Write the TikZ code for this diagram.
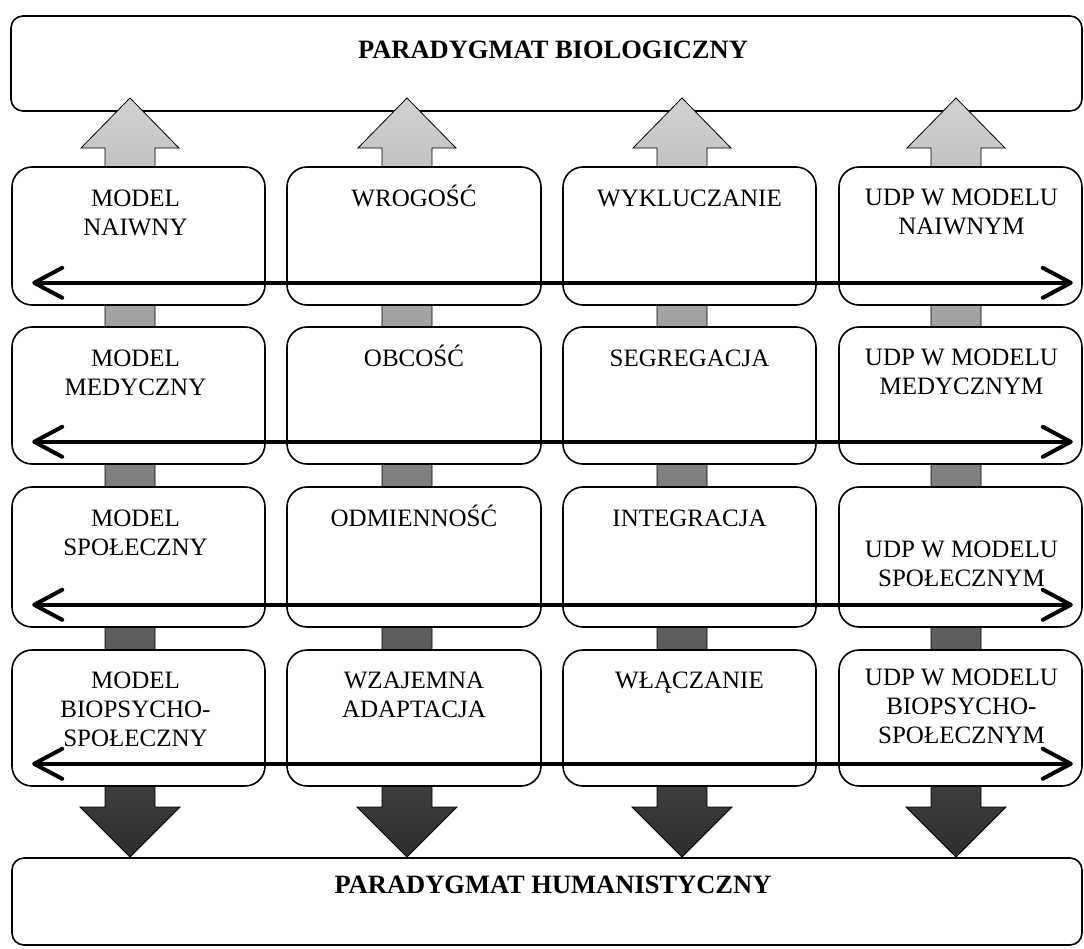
\documentclass[tikz,border=0pt]{standalone}
\usepackage{fontspec}
\setmainfont{Liberation Serif}
\usetikzlibrary{arrows.meta,calc}
\begin{document}
\begin{tikzpicture}[x=1pt,y=-1pt,
  box/.style={draw=black, line width=1.6pt, fill=white, rounded corners=20pt, inner sep=0pt},
  paradigm/.style={draw=black, line width=1.6pt, rounded corners=12pt, inner sep=0pt},
  lbl/.style={font=\fontsize{25}{29}\selectfont, align=center, inner sep=0pt, anchor=north},
  ttl/.style={font=\fontsize{26.5}{30}\selectfont\bfseries, inner sep=0pt, anchor=base},
  flow/.style={draw=black, line width=0.8pt, top color=black!18, bottom color=black!82},
  axis/.style={line width=4pt, {Straight Barb[length=28pt,width=30pt,round]}-{Straight Barb[length=28pt,width=30pt,round]}}
]
\useasboundingbox (0,0) rectangle (1084,948);
\newcommand{\fl}{\rule{0pt}{24pt}}

% paradigm boxes
\node[paradigm, minimum width=1071pt, minimum height=95pt] (bio) at (546.5,63.5) {};
\node[paradigm, minimum width=1070pt, minimum height=87pt] (hum) at (547,901.5) {};
\node[ttl] (biot) at (553,58) {PARADYGMAT BIOLOGICZNY};
\node[ttl] (humt) at (553,893) {PARADYGMAT HUMANISTYCZNY};

% vertical block arrows
\foreach \cx in {130,407,682,956}{
  \path[flow] (\cx,98) -- ++(49,50) -- ++(-24,0) -- ++(0,659) -- ++(25,0)
    -- ++(-50,50) -- ++(-50,-50) -- ++(25,0) -- ++(0,-659) -- ++(-24,0) -- cycle;
}

% row 1
\node[box, minimum width=253pt, minimum height=138pt] (b11) at (138.5,236) {};
\node[box, minimum width=254pt, minimum height=138pt] (b12) at (414,236) {};
\node[box, minimum width=253pt, minimum height=138pt] (b13) at (689.5,236) {};
\node[box, minimum width=243pt, minimum height=138pt] (b14) at (960.5,236) {};
% row 2
\node[box, minimum width=253pt, minimum height=137pt] (b21) at (138.5,395.5) {};
\node[box, minimum width=254pt, minimum height=137pt] (b22) at (414,395.5) {};
\node[box, minimum width=253pt, minimum height=137pt] (b23) at (689.5,395.5) {};
\node[box, minimum width=243pt, minimum height=137pt] (b24) at (960.5,395.5) {};
% row 3
\node[box, minimum width=253pt, minimum height=140pt] (b31) at (138.5,557) {};
\node[box, minimum width=254pt, minimum height=140pt] (b32) at (414,557) {};
\node[box, minimum width=253pt, minimum height=140pt] (b33) at (689.5,557) {};
\node[box, minimum width=243pt, minimum height=140pt] (b34) at (960.5,557) {};
% row 4
\node[box, minimum width=253pt, minimum height=136pt] (b41) at (138.5,718) {};
\node[box, minimum width=254pt, minimum height=136pt] (b42) at (414,718) {};
\node[box, minimum width=253pt, minimum height=136pt] (b43) at (689.5,718) {};
\node[box, minimum width=243pt, minimum height=136pt] (b44) at (960.5,718) {};

% labels
\node[lbl] (t11) at ($(b11.north)+(-3,16)$) {\fl MODEL\\NAIWNY};
\node[lbl] (t12) at ($(b12.north)+(0,16)$) {\fl WROGOŚĆ};
\node[lbl] (t13) at ($(b13.north)+(0,16)$) {\fl WYKLUCZANIE};
\node[lbl] (t14) at ($(b14.north)+(1,15)$) {\fl UDP W MODELU\\NAIWNYM};

\node[lbl] (t21) at ($(b21.north)+(-3,16)$) {\fl MODEL\\MEDYCZNY};
\node[lbl] (t22) at ($(b22.north)+(0,16)$) {\fl OBCOŚĆ};
\node[lbl] (t23) at ($(b23.north)+(0,16)$) {\fl SEGREGACJA};
\node[lbl] (t24) at ($(b24.north)+(1,15)$) {\fl UDP W MODELU\\MEDYCZNYM};

\node[lbl] (t31) at ($(b31.north)+(-3,16)$) {\fl MODEL\\SPOŁECZNY};
\node[lbl] (t32) at ($(b32.north)+(0,16)$) {\fl ODMIENNOŚĆ};
\node[lbl] (t33) at ($(b33.north)+(0,16)$) {\fl INTEGRACJA};
\node[lbl] (t34) at ($(b34.north)+(1,47)$) {\fl UDP W MODELU\\SPOŁECZNYM};

\node[lbl] (t41) at ($(b41.north)+(-3,15)$) {\fl MODEL\\BIOPSYCHO-\\SPOŁECZNY};
\node[lbl] (t42) at ($(b42.north)+(0,15)$) {\fl WZAJEMNA\\ADAPTACJA};
\node[lbl] (t43) at ($(b43.north)+(0,15)$) {\fl WŁĄCZANIE};
\node[lbl] (t44) at ($(b44.north)+(1,12)$) {\fl UDP W MODELU\\BIOPSYCHO-\\SPOŁECZNYM};

% horizontal double arrows
\foreach \r in {1,2,3,4}{
  \coordinate (l\r) at ($(b\r1.south west)+(21,-23)$);
  \coordinate (r\r) at ($(b\r4.south east)+(-10,-23)$);
  \draw[axis] (l\r) -- (r\r);
}
\end{tikzpicture}
\end{document}
